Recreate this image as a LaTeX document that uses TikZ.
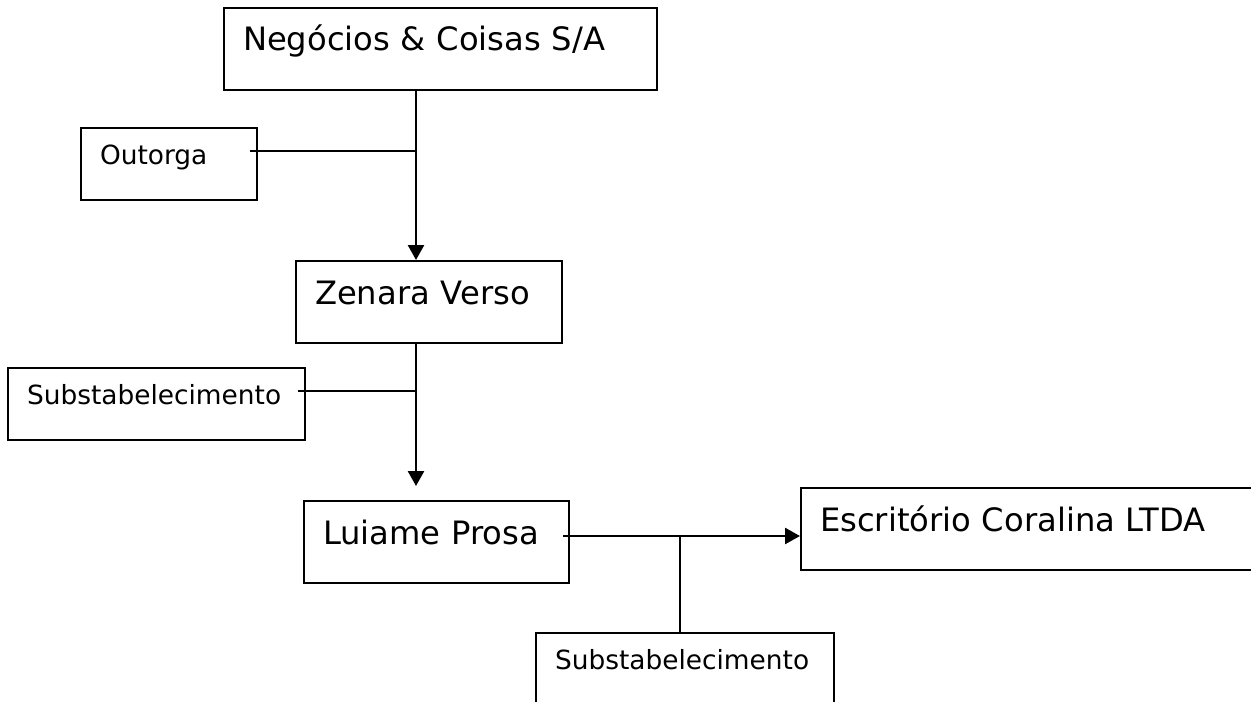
\documentclass[tikz,border=0pt]{standalone}
\usepackage{fontspec}
\setmainfont{DejaVu Sans}
\usepackage{tikz}
\usetikzlibrary{arrows.meta,positioning}

\begin{document}
\begin{tikzpicture}[x=0.5pt, y=-0.5pt,
  caixa/.style={rectangle, draw, line width=1pt, anchor=north west, inner xsep=9.5pt, inner ysep=0pt, align=left},
  grande/.style={caixa, font=\fontsize{16.1}{19}\selectfont, text height=21.5pt, text depth=19.5pt},
  pequena/.style={caixa, font=\fontsize{13.2}{16}\selectfont, text height=18pt, text depth=18pt},
  seta/.style={line width=1.25pt, -{Triangle[width=8pt,length=7.5pt]}},
  liga/.style={line width=0.75pt}]
\useasboundingbox (0,0) rectangle (1251,701);

\node[grande, text width=197.5pt] (negocios) at (223,7) {Negócios \& Coisas S/A};
\node[pequena, text width=69pt] (outorga) at (80,127) {Outorga};
\node[grande, text width=114pt] (zenara) at (295,260) {Zenara Verso};
\node[pequena, text width=129.5pt] (subst) at (7,367) {Substabelecimento};
\node[grande, text width=113.5pt] (luiame) at (303,500) {Luiame Prosa};
\node[grande, text width=211pt] (escritorio) at (800,487) {Escritório Coralina LTDA};
\node[pequena, text width=130pt] (substb) at (535,632) {Substabelecimento};

\coordinate (eixo) at (416,0);
\coordinate (juncaoa) at (416,151);
\coordinate (juncaob) at (416,391);
\coordinate (juncaoc) at (680,536);

\draw[seta] (eixo |- negocios.south) -- (eixo |- zenara.north);
\draw[seta, shorten >=7pt] (eixo |- zenara.south) -- (eixo |- luiame.north);
\draw[liga] ([xshift=-4pt]outorga.east |- juncaoa) -- (juncaoa);
\draw[liga] ([xshift=-4pt]subst.east |- juncaob) -- (juncaob);
\draw[seta] ([xshift=-3.5pt]luiame.east |- juncaoc) -- (escritorio.west |- juncaoc);
\draw[seta, -] (juncaoc) -- (juncaoc |- substb.north);
\end{tikzpicture}
\end{document}
